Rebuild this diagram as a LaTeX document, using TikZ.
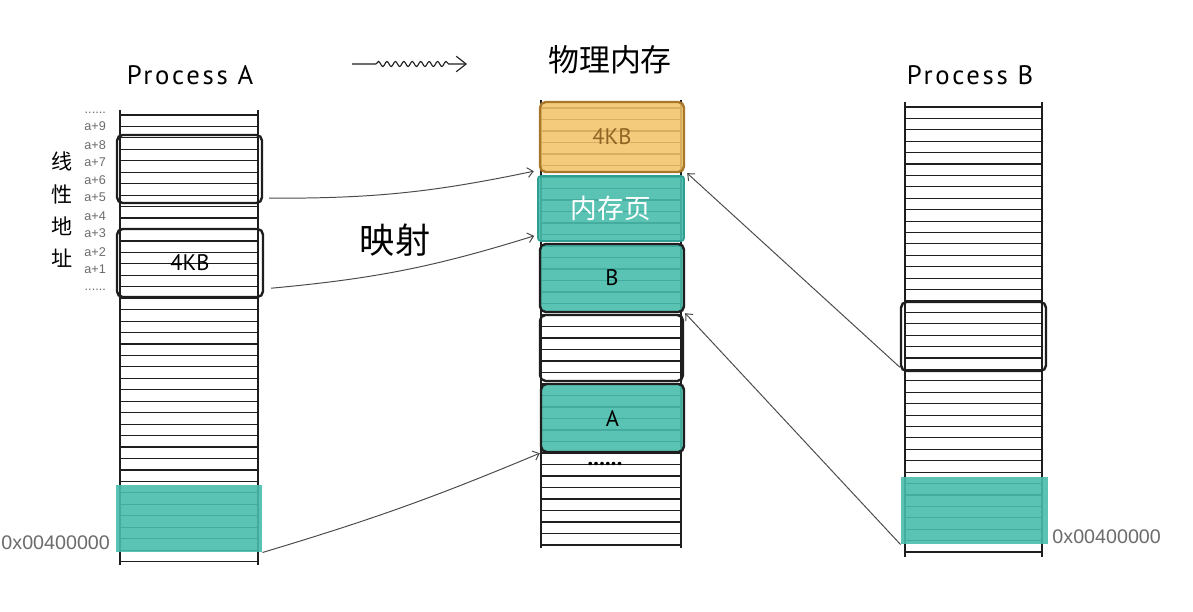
\documentclass[tikz,border=0pt]{standalone}
\usepackage{fontspec}
\setmainfont{PT Sans}
\newfontfamily\cjk{Noto Sans CJK SC}
\newfontfamily\hand[LetterSpace=10]{PT Sans}
\newfontfamily\addrfont{Liberation Sans}
\usetikzlibrary{arrows.meta, positioning, fit, decorations.pathmorphing}
\definecolor{cteal}{HTML}{48BCAC}
\definecolor{ctealdark}{HTML}{2E9E90}
\definecolor{corange}{HTML}{F2C36A}
\definecolor{cbrown}{HTML}{A8772A}
\definecolor{cgrey}{HTML}{6B6B6B}
\definecolor{cink}{HTML}{1E1E1E}
\tikzset{
  every picture/.style={line width=0.7pt},
  cell/.style={draw=cink, line width=0.8pt},
  pagebox/.style={draw=cink, line width=1.7pt, rounded corners=4pt, inner sep=0pt},
  tealbox/.style={fill=cteal, fill opacity=0.9, text opacity=1, inner sep=0pt},
  boxtext/.style={label={[font=\fontsize{16}{18}\selectfont, text opacity=1]center:#1}},
  arrow/.style={-{Straight Barb[length=4pt, width=7pt]}, draw=cink!80, line width=0.7pt},
  title/.style={font=\hand\fontsize{19}{22}\selectfont},
  addr/.style={font=\addrfont\fontsize{9}{10}\selectfont, text=cgrey, anchor=east},
  hexnote/.style={font=\addrfont\fontsize{14}{16}\selectfont, text=cgrey, inner sep=0pt},
}

\begin{document}
\begin{tikzpicture}[x=0.025cm, y=-0.025cm]
  \useasboundingbox (0,0) rectangle (1193,612);
  % columns of cells
  \draw[cell] (120,110) -- (120,565) (258,110) -- (258,565);
  \foreach \k in {0,...,39} \draw[cell] (120,115+11.45*\k) -- (258,115+11.45*\k);
  \draw[cell] (541,100) -- (541,548) (681,100) -- (681,548);
  \foreach \k in {0,...,38} \draw[cell] (541,108+11.5*\k) -- (681,108+11.5*\k);
  \draw[cell] (905,102) -- (905,557) (1042,102) -- (1042,557);
  \foreach \k in {0,...,39} \draw[cell] (905,107+11.41*\k) -- (1042,107+11.41*\k);
  % titles
  \node[title] (procA) at (190,75) {Process A};
  \node[title] (procB) at (970,75) {Process B};
  \node[font=\cjk\fontsize{22}{24}\selectfont] (phys) at (610,60) {物理内存};
  \coordinate (wavestart) at (352,64);
  \coordinate (waveend) at (467,64);
  \draw[cink, line width=0.8pt, decorate, decoration={snake, amplitude=1.8pt, segment length=6pt, pre length=17pt, post length=11pt}, -{Straight Barb[length=7pt, width=11pt]}] (wavestart) -- (waveend);
  % process A
  \node[pagebox, fit={(117,135) (262,203)}] (boxA1) {};
  \node[pagebox, fit={(117,229) (263,297)}, boxtext=4KB] (boxA2) {};
  \node[tealbox, fit={(116,485) (262,552)}] (tA) {};
  \foreach \k/\yy in {9/126, 8/145, 7/162, 6/180, 5/197, 4/216, 3/233, 2/252, 1/269}
    \node[addr] (addr\k) at (111,\yy) {a+\k};
  \node[addr] (dtop) at (111,113) {......};
  \node[addr] (dbot) at (111,290) {......};
  \node[font=\cjk\fontsize{15}{23}\selectfont, align=center] (linaddr) at (62,210) {线\\性\\地\\址};
  \node[hexnote, anchor=west] (hexA) at (1,543) {0x00400000};
  % physical memory
  \node[pagebox, draw=cbrown, fill=corange, fill opacity=0.88, fit={(540,102) (684,172)}, label={[font=\fontsize{16}{18}\selectfont, text=cbrown!85!black]center:4KB}] (org) {};
  \node[tealbox, draw=ctealdark, line width=1.2pt, rounded corners=2pt, fit={(538,176) (684,241)}, label={[font=\cjk\fontsize{19}{21}\selectfont, text=white]center:内存页}] (mpage) {};
  \node[pagebox, tealbox, fit={(540,244) (684,312)}, boxtext=B] (pB) {};
  \node[pagebox, fit={(540,315) (683,381)}] (pfree) {};
  \node[pagebox, tealbox, fit={(541,384) (684,452)}, boxtext=A] (pA) {};
  \node[font=\bfseries\fontsize{16}{16}\selectfont] (pdots) at (605,464) {......};
  \node[font=\cjk\fontsize{25}{28}\selectfont] (mapping) at (395,240) {映射};
  % process B
  \node[pagebox, fit={(901,302) (1046,371)}] (bB) {};
  \node[tealbox, fit={(901,477) (1048,544)}] (tB) {};
  \node[hexnote, anchor=west] (hexB) at (1052,537) {0x00400000};
  % mappings
  \draw[arrow] ([shift={(6,-6)}]boxA1.south east) to[bend right=6] ([shift={(-5,-2)}]org.south west);
  \draw[arrow] ([shift={(7,-10)}]boxA2.south east) to[bend right=6] ([shift={(-3,-6)}]mpage.south west);
  \draw[arrow] (tA.south east) to[bend right=3] (pA.south west);
  \draw[arrow] ([shift={(0,-5)}]bB.south west) -- ([shift={(2,0)}]org.south east);
  \draw[arrow] (tB.south west) -- (pB.south east);
\end{tikzpicture}
\end{document}
